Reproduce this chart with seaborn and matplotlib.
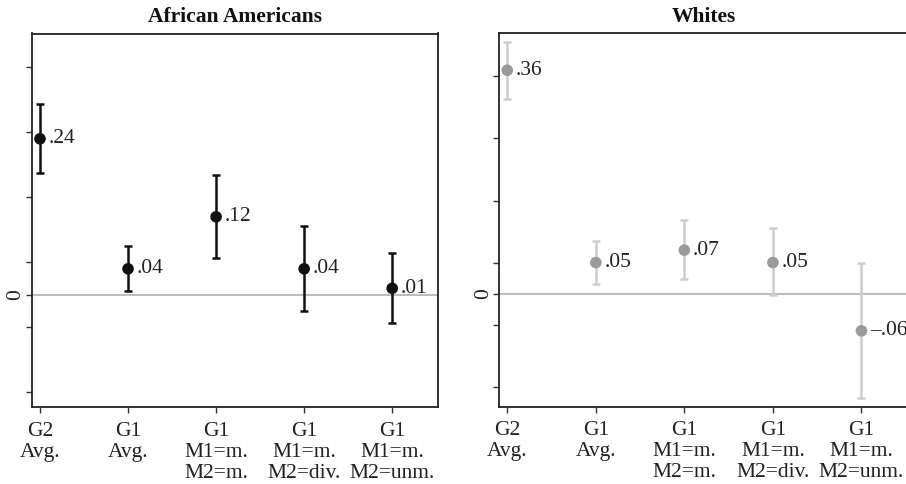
import numpy as np
import pandas as pd
import matplotlib
matplotlib.use("Agg")
import matplotlib.pyplot as plt
import seaborn as sns

# categories on the x axis
categories = ["G2\nAvg.", "G1\nAvg.", "G1\nM1=m.\nM2=m.", "G1\nM1=m.\nM2=div.", "G1\nM1=m.\nM2=unm."]

# African Americans: estimates and interval bounds
aa_est = [0.24, 0.04, 0.12, 0.04, 0.01]
aa_lo = [0.187, 0.006, 0.056, -0.025, -0.043]
aa_hi = [0.293, 0.075, 0.185, 0.106, 0.064]
aa_labels = [".24", ".04", ".12", ".04", ".01"]

# Whites
wh_est = [0.36, 0.05, 0.07, 0.05, -0.06]
wh_lo = [0.314, 0.016, 0.023, -0.003, -0.168]
wh_hi = [0.406, 0.084, 0.118, 0.105, 0.049]
wh_labels = [".36", ".05", ".07", ".05", "\u2013.06"]

yticks = [-0.15, -0.05, 0, 0.05, 0.15, 0.25, 0.35]

sns.set_style("white")
plt.rcParams["font.family"] = ["Liberation Serif", "DejaVu Serif"]

fig = plt.figure(figsize=(9.06, 4.84), dpi=100)
W, H = 906, 484
FS = 15.5

panels = [
    dict(title="African Americans", est=aa_est, lo=aa_lo, hi=aa_hi, labels=aa_labels,
         dot="#111111", bar="#111111", rect=(31.7, 33.5, 438, 407.3), ylim=(-0.173, 0.402), xlim=(-0.094, 4.52)),
    dict(title="Whites", est=wh_est, lo=wh_lo, hi=wh_hi, labels=wh_labels,
         dot="#9a9a9a", bar="#cdcdcd", rect=(499.3, 33.0, 907.5, 406.5), ylim=(-0.182, 0.420), xlim=(-0.09, 4.52)),
]

for p in panels:
    x0, y0, x1, y1 = p["rect"]
    ax = fig.add_axes([x0 / W, 1 - y1 / H, (x1 - x0) / W, (y1 - y0) / H])
    df = pd.DataFrame({"pos": np.arange(len(categories)), "est": p["est"],
                       "lo": p["lo"], "hi": p["hi"]})

    ax.axhline(0, color="#bdbdbd", lw=1.5, zorder=1)
    ax.errorbar(df["pos"], df["est"],
                yerr=[df["est"] - df["lo"], df["hi"] - df["est"]],
                fmt="none", ecolor=p["bar"], elinewidth=1.8, capsize=3, capthick=1.8, zorder=2)
    sns.scatterplot(data=df, x="pos", y="est", ax=ax, color=p["dot"], s=70,
                    edgecolor="none", zorder=3, legend=False)
    for xi, yi, lab in zip(df["pos"], df["est"], p["labels"]):
        ax.annotate(lab, (xi, yi), xytext=(6, 0), textcoords="offset points",
                    ha="left", va="center", fontsize=FS, color="#222222")

    ax.set_xlim(*p["xlim"])
    ax.set_ylim(*p["ylim"])
    ax.set_xticks(df["pos"])
    ax.set_xticklabels(categories, fontsize=FS, linespacing=1.15, color="#222222")
    ax.set_yticks(yticks)
    ax.set_yticklabels(["0" if t == 0 else "" for t in yticks], fontsize=FS,
                       rotation=90, va="center", color="#222222")
    ax.tick_params(axis="both", direction="out", length=4.5, width=1, color="#333333",
                   left=True, bottom=True)
    ax.tick_params(axis="y", pad=0)
    ax.tick_params(axis="x", pad=6)
    ax.set_xlabel("")
    ax.set_ylabel("")
    for s in ax.spines.values():
        s.set_color("#222222")
        s.set_linewidth(1.3)
    ax.set_title(p["title"], fontsize=FS, fontweight="bold", pad=8, color="#111111")

fig.savefig("out.png", dpi=100)
